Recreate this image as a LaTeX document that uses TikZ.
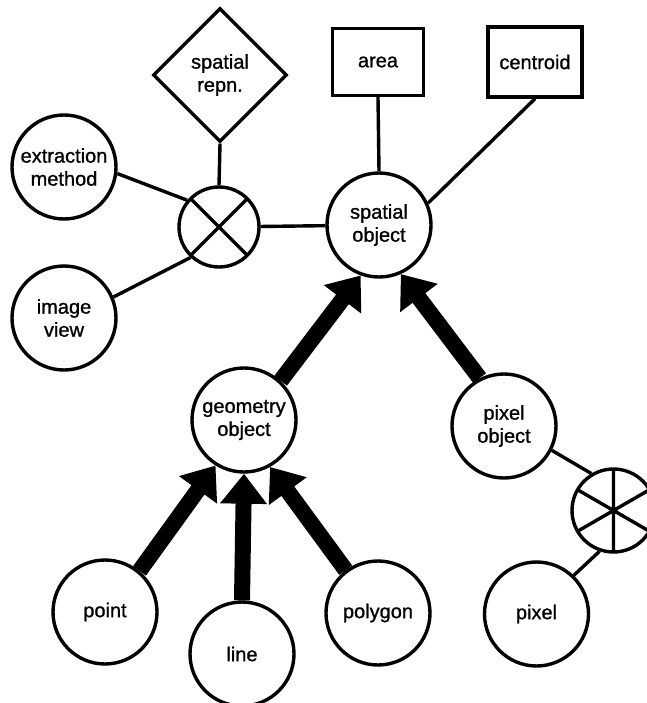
\documentclass[tikz,border=0pt]{standalone}
\usepackage{fontspec}
\setmainfont{Liberation Sans}[BoldFont={Liberation Sans}, BoldFeatures={FakeBold=1}]
\usetikzlibrary{shapes.geometric,arrows.meta}
\begin{document}
\begin{tikzpicture}[x=1pt,y=-1pt,
  every node/.style={font=\fontsize{20}{23}\selectfont\bfseries, align=center,
    line width=3.4pt, inner sep=0pt},
  entity/.style={circle, draw, fill=white, minimum size=104pt},
  attrbox/.style={rectangle, draw, fill=white},
  relship/.style={diamond, draw, fill=white, shape aspect=1,
    minimum width=134pt, minimum height=134pt},
  crossagg/.style={circle, draw, fill=white, minimum size=80pt,
    path picture={
      \draw[line width=3.4pt]
        (path picture bounding box.north west) -- (path picture bounding box.south east)
        (path picture bounding box.north east) -- (path picture bounding box.south west);}},
  staragg/.style={circle, draw, fill=white, minimum size=83pt,
    path picture={
      \draw[line width=3.4pt]
        ([shift={(90:60pt)}]path picture bounding box.center) --
        ([shift={(270:60pt)}]path picture bounding box.center)
        ([shift={(30:60pt)}]path picture bounding box.center) --
        ([shift={(210:60pt)}]path picture bounding box.center)
        ([shift={(150:60pt)}]path picture bounding box.center) --
        ([shift={(330:60pt)}]path picture bounding box.center);}},
  link/.style={line width=3.4pt},
  isa/.style={line width=16pt, -{Triangle[width=45pt,length=30pt]}},
]
% canvas
\path[fill=white, use as bounding box] (0,0) rectangle (646,703);

% upper part: spatial object with its attributes and the representation relation
\node[relship] (srep) at (220,75) {spatial\\repn.};
\node[crossagg] (xagg) at (219,227) {};
\node[attrbox, minimum width=91pt, minimum height=67pt] (area) at (378,62) {area};
\node[attrbox, minimum width=94pt, minimum height=70pt] (cent) at (535,62) {centroid};
\node[entity] (so) at (379,225) {spatial\\object};
\node[entity] (em) at (64,167) {extraction\\method};
\node[entity] (iv) at (64,318) {image\\view};

% middle: subclasses
\node[entity] (geo) at (244,420) {geometry\\object};
\node[entity] (po) at (504,426) {pixel\\object};
\node[staragg] (sagg) at (613.5,510.5) {};
\node[entity] (px) at (536.5,614) {pixel};

% bottom: geometry subclasses
\node[entity] (pt) at (105,612) {point};
\node[entity] (ln) at (242,654) {line};
\node[entity] (pg) at (378,613) {polygon};

% thin connectors
\draw[link] (srep.south) -- (xagg.north);
\draw[link] (em.-7) -- (xagg.140);
\draw[link] (iv.23) -- (xagg.227);
\draw[link] (xagg) -- (so);
\draw[link] (area.south) -- (so.north);
\draw[link] (cent.south) -- (so.24);
\draw[link] (po.-27) -- (sagg.121);
\draw[link] (sagg.251) -- (px.46);

% generalisation arrows
\draw[isa] (geo.47) -- (so.250);
\draw[isa] (po.117) -- (so.294);
\draw[isa] (pt.50) -- (geo.238);
\draw[isa] (ln.north) -- (geo.south);
\draw[isa] (pg.127) -- (geo.299);
\end{tikzpicture}
\end{document}
